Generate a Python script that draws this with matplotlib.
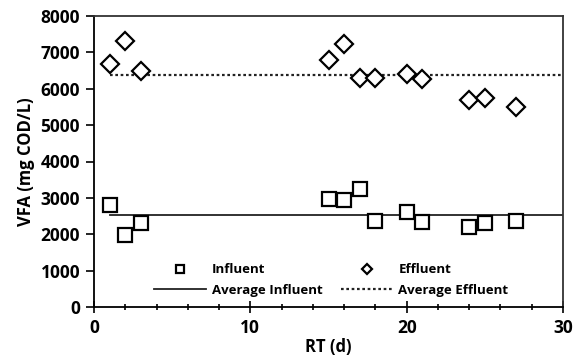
import matplotlib
matplotlib.use("Agg")
import matplotlib.pyplot as plt
from matplotlib.ticker import MultipleLocator

plt.rcParams['font.family'] = ['Open Sans', 'DejaVu Sans']
plt.rcParams['font.weight'] = 'bold'

rt = [1, 2, 3, 15, 16, 17, 18, 20, 21, 24, 25, 27]
influent = [2800, 1990, 2300, 2970, 2940, 3240, 2360, 2610, 2340, 2200, 2310, 2360]
effluent = [6680, 7310, 6490, 6790, 7230, 6290, 6290, 6400, 6270, 5690, 5740, 5500]
avg_influent = 2540
avg_effluent = 6380
line_start, line_end = 1, 30

fig = plt.figure(figsize=(5.76, 3.61), dpi=100)
ax = fig.add_axes([94/576, 1 - 307/361, (563-94)/576, (307-16)/361])

h1, = ax.plot(rt, influent, linestyle='none', marker='s', markersize=10.5,
              markerfacecolor='white', markeredgecolor='black', markeredgewidth=1.6,
              label='Influent', zorder=3)
h2, = ax.plot(rt, effluent, linestyle='none', marker='D', markersize=9,
              markerfacecolor='white', markeredgecolor='black', markeredgewidth=1.6,
              label='Effluent', zorder=3)
h3, = ax.plot([line_start, line_end], [avg_influent, avg_influent], color='#222222',
              linewidth=1.3, label='Average Influent', zorder=2)
h4, = ax.plot([line_start, line_end], [avg_effluent, avg_effluent], color='#222222',
              linewidth=1.6, linestyle=(0, (1.2, 1.2)), label='Average Effluent', zorder=2)

ax.set_xlim(0, 30)
ax.set_ylim(0, 8000)
ax.xaxis.set_major_locator(MultipleLocator(10))
ax.xaxis.set_minor_locator(MultipleLocator(2))
ax.yaxis.set_major_locator(MultipleLocator(1000))
ax.tick_params(axis='x', which='major', direction='inout', length=9, width=1.2,
               labelsize=12.5, pad=4)
ax.tick_params(axis='x', which='minor', direction='inout', length=5, width=1.2)
ax.tick_params(axis='y', which='major', direction='out', length=6, width=1.2,
               labelsize=12.5, pad=4)
for lbl in ax.get_xticklabels() + ax.get_yticklabels():
    lbl.set_fontweight('bold')
for s in ax.spines.values():
    s.set_linewidth(1.3)
    s.set_color('#333333')
ax.spines['left'].set_color('black')
ax.spines['bottom'].set_color('black')

ax.set_xlabel('RT (d)', fontsize=12, fontweight='bold', labelpad=1)
ax.set_ylabel('VFA (mg COD/L)', fontsize=12, fontweight='bold', labelpad=4)

leg = ax.legend([h1, h3, h2, h4],
                ['Influent', 'Average Influent', 'Effluent', 'Average Effluent'],
                ncol=2, loc='center', bbox_to_anchor=(0.506, 0.093),
                frameon=False, markerscale=0.55, fontsize=9.5,
                columnspacing=1.4, handlelength=3.9, labelspacing=0.55,
                handletextpad=0.45)

fig.savefig('out.png', dpi=100)
